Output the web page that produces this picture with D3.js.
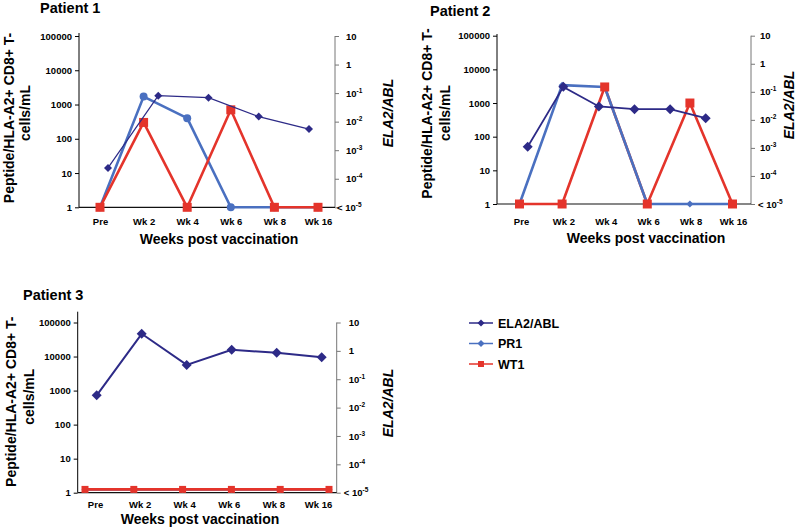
<!DOCTYPE html>
<html><head><meta charset="utf-8">
<script src="https://cdn.jsdelivr.net/npm/d3@7"></script>
<style>
html,body{margin:0;padding:0;background:#fff;}
svg{display:block;font-family:"Liberation Sans",Arial,sans-serif;}
</style></head>
<body>
<svg id="chart" width="800" height="530"></svg>
<script>
// ---------- data ----------
const categories = ["Pre", "Wk 2", "Wk 4", "Wk 6", "Wk 8", "Wk 16"];
const leftTicks = [1, 10, 100, 1000, 10000, 100000];
const rightTicks = [1e-5, 1e-4, 1e-3, 1e-2, 1e-1, 1, 10];
const rightTickBase = ["< 10", "10", "10", "10", "10", "1", "10"];
const rightTickSup = ["-5", "-4", "-3", "-2", "-1", "", ""];
const seriesNames = ["ELA2/ABL", "PR1", "WT1"];

// Patient 1 (ELA2/ABL has 5 samples on its own axis)
const p1PR1 = [1, 1700, 400, 1, 1, 1];
const p1WT1 = [1, 300, 1, 700, 1, 1];
const p1ELA2 = [0.00024, 0.081, 0.069, 0.015, 0.0055];
// Patient 2
const p2PR1 = [1, 3400, 3000, 1, 1, 1];
const p2WT1 = [1, 1, 3000, 1, 1000, 1];
const p2ELA2 = [0.0011, 0.15, 0.030, 0.024, 0.024, 0.0115];
// Patient 3
const p3PR1 = [1.25, 1.25, 1.25, 1.25, 1.25, 1.25];
const p3WT1 = [1.25, 1.25, 1.25, 1.25, 1.25, 1.25];
const p3ELA2 = [0.027, 4.0, 0.32, 1.1, 0.85, 0.59];

// ---------- styles ----------
const COL = {ela: "#2d2a87", pr1: "#4a70c0", wt1: "#e4342b", axisR: "#777"};
const FONT = '"Liberation Sans", Arial, sans-serif';

const panels = [
  {title: "Patient 1", titleX: 40, titleY: 12.5,
   x0: 79, x1: 335, yTop: 36, yBot: 207.3, leftTop: 33,
   catRange: [100, 318], serRange: [100, 318], elaRange: [108, 309],
   pr1: p1PR1, wt1: p1WT1, ela: p1ELA2,
   lineOrder: ["pr1", "wt1"], pr1Marker: "circle", elaWidth: 1.2, elaSize: 8, sqSize: 9,
   yl1: 13.5, yl2: 30, ylC1: 118, ylC2: 113, ryX: 393, ryC: 113,
   xtY: 225, xtitleX: 219, xtitleY: 244, rPad: 7, lessDx: -9},
  {title: "Patient 2", titleX: 430, titleY: 15.5,
   x0: 497, x1: 751, yTop: 35.7, yBot: 204, leftTop: 34,
   catRange: [521, 733], serRange: [519.5, 732.5], elaRange: [527.7, 705.7],
   pr1: p2PR1, wt1: p2WT1, ela: p2ELA2,
   lineOrder: ["wt1", "pr1"], pr1Marker: "diamond", elaWidth: 1.8, elaSize: 10, sqSize: 9,
   yl1: 432, yl2: 450, ylC1: 113.5, ylC2: 113, ryX: 794, ryC: 105,
   xtY: 225, xtitleX: 646, xtitleY: 243, rPad: 5, lessDx: -2},
  {title: "Patient 3", titleX: 23, titleY: 299.5,
   x0: 77.7, x1: 336.7, yTop: 322.5, yBot: 492.7, leftTop: 311.7,
   catRange: [95, 318], serRange: [85, 329], elaRange: [96.7, 321.7],
   pr1: p3PR1, wt1: p3WT1, ela: p3ELA2,
   lineOrder: ["pr1", "wt1"], pr1Marker: "diamond", elaWidth: 2, elaSize: 10, sqSize: 7,
   yl1: 15.5, yl2: 34, ylC1: 401.7, ylC2: 396.7, ryX: 392.5, ryC: 403,
   xtY: 508, xtitleX: 200, xtitleY: 524, rPad: 8, lessDx: -5}
];

const svg = d3.select("#chart");

function marker(type, size) {
  if (type === "square") return d3.symbol().type(d3.symbolSquare).size(size * size)();
  if (type === "circle") return d3.symbol().type(d3.symbolCircle).size(Math.PI * size * size / 4)();
  // diamond = square rotated 45°, size = diagonal
  return d3.symbol().type(d3.symbolSquare).size(size * size / 2)();
}

panels.forEach(p => {
  const g = svg.append("g");
  const yL = d3.scaleLog().domain([1, 1e5]).range([p.yBot, p.yTop]);
  const yR = d3.scaleLog().domain([1e-5, 10]).range([p.yBot, p.yTop]).clamp(true);
  const xCat = d3.scalePoint().domain(categories).range(p.catRange);
  const xSer = d3.scalePoint().domain(categories).range(p.serRange);
  const elaIdx = d3.range(p.ela.length);
  const xEla = d3.scalePoint().domain(elaIdx).range(p.elaRange);

  // title
  g.append("text").attr("x", p.titleX).attr("y", p.titleY)
    .attr("font-size", 14.5).attr("font-weight", "bold").text(p.title);

  // left axis
  const la = g.append("g").attr("transform", `translate(${p.x0},0)`)
    .call(d3.axisLeft(yL).tickValues(leftTicks).tickFormat(d3.format("d")).tickSize(4).tickPadding(3));
  la.select(".domain").remove();
  la.selectAll("text").attr("font-size", 9.5).attr("font-weight", "bold").attr("font-family", FONT).attr("fill", "#000");
  la.selectAll("line").attr("stroke", "#000");
  g.append("line").attr("x1", p.x0).attr("x2", p.x0).attr("y1", p.leftTop).attr("y2", p.yBot)
    .attr("stroke", "#000").attr("stroke-width", 1);

  // right axis
  const ra = g.append("g").attr("transform", `translate(${p.x1},0)`)
    .call(d3.axisRight(yR).tickValues(rightTicks).tickSize(4).tickPadding(p.rPad).tickFormat(""));
  ra.select(".domain").remove();
  ra.selectAll("line").attr("stroke", COL.axisR);
  ra.selectAll(".tick text").each(function(d, i) {
    const t = d3.select(this).attr("font-size", 9.5).attr("font-weight", "bold")
      .attr("font-family", FONT).attr("fill", "#000");
    t.append("tspan").text(rightTickBase[i]);
    if (rightTickSup[i]) t.append("tspan").attr("font-size", 6.5).attr("dy", -4).text(rightTickSup[i]);
    if (i === 0) t.attr("dx", p.lessDx);
  });
  g.append("line").attr("x1", p.x1).attr("x2", p.x1).attr("y1", p.yTop).attr("y2", p.yBot)
    .attr("stroke", COL.axisR).attr("stroke-width", 1);

  // x axis
  g.append("line").attr("x1", p.x0).attr("x2", p.x1).attr("y1", p.yBot).attr("y2", p.yBot)
    .attr("stroke", "#111").attr("stroke-width", 1.2);
  const xa = g.append("g").attr("transform", `translate(0,${p.yBot})`)
    .call(d3.axisBottom(xCat).tickSize(0).tickPadding(0));
  xa.select(".domain").remove();
  xa.selectAll("text").attr("font-size", 9.5).attr("font-weight", "bold").attr("font-family", FONT)
    .attr("fill", "#000").attr("dy", null).attr("y", p.xtY - p.yBot);

  // axis titles
  [["Peptide/HLA-A2+ CD8+ T-", p.yl1, p.ylC1], ["cells/mL", p.yl2, p.ylC2]].forEach(([txt, x, c]) => {
    g.append("text").attr("transform", `translate(${x},${c}) rotate(-90)`)
      .attr("text-anchor", "middle").attr("font-size", 14).attr("font-weight", "bold").text(txt);
  });
  g.append("text").attr("transform", `translate(${p.ryX},${p.ryC}) rotate(-90)`)
    .attr("text-anchor", "middle").attr("font-size", 14).attr("font-weight", "bold")
    .attr("font-style", "italic").text("ELA2/ABL");
  g.append("text").attr("x", p.xtitleX).attr("y", p.xtitleY).attr("text-anchor", "middle")
    .attr("font-size", 14).attr("font-weight", "bold").text("Weeks post vaccination");

  // series lines
  const lineSer = d3.line().x((d, i) => xSer(categories[i])).y(d => yL(d));
  p.lineOrder.forEach(k => {
    g.append("path").datum(p[k]).attr("d", lineSer).attr("fill", "none")
      .attr("stroke", COL[k]).attr("stroke-width", 2.6).attr("stroke-linejoin", "round");
  });
  // PR1 markers then WT1 markers
  g.selectAll(".mpr1").data(p.pr1).enter().append("path")
    .attr("d", p.pr1Marker === "circle" ? marker("circle", 8) : marker("diamond", 7))
    .attr("transform", (d, i) => `translate(${xSer(categories[i])},${yL(d)})` + (p.pr1Marker === "circle" ? "" : " rotate(45)"))
    .attr("fill", COL.pr1);
  g.selectAll(".mwt1").data(p.wt1).enter().append("path")
    .attr("d", marker("square", p.sqSize))
    .attr("transform", (d, i) => `translate(${xSer(categories[i])},${yL(d)})`)
    .attr("fill", COL.wt1);

  // ELA2/ABL on right axis
  const lineEla = d3.line().x((d, i) => xEla(i)).y(d => yR(d));
  g.append("path").datum(p.ela).attr("d", lineEla).attr("fill", "none")
    .attr("stroke", COL.ela).attr("stroke-width", p.elaWidth);
  g.selectAll(".mela").data(p.ela).enter().append("path")
    .attr("d", marker("diamond", p.elaSize))
    .attr("transform", (d, i) => `translate(${xEla(i)},${yR(d)}) rotate(45)`)
    .attr("fill", COL.ela);
});

// legend
const legY = d3.scalePoint().domain(seriesNames).range([323, 364]);
const legKeys = {"ELA2/ABL": "ela", "PR1": "pr1", "WT1": "wt1"};
const leg = svg.append("g");
seriesNames.forEach(name => {
  const k = legKeys[name], y = legY(name);
  leg.append("line").attr("x1", 469).attr("x2", 493).attr("y1", y).attr("y2", y)
    .attr("stroke", COL[k]).attr("stroke-width", 1.5);
  leg.append("path").attr("d", k === "wt1" ? marker("square", 6) : marker("diamond", 7))
    .attr("transform", `translate(481,${y})` + (k === "wt1" ? "" : " rotate(45)"))
    .attr("fill", COL[k]);
  leg.append("text").attr("x", 498).attr("y", y + 4.5).attr("font-size", 12.5)
    .attr("font-weight", "bold").text(name);
});
</script>
</body></html>
